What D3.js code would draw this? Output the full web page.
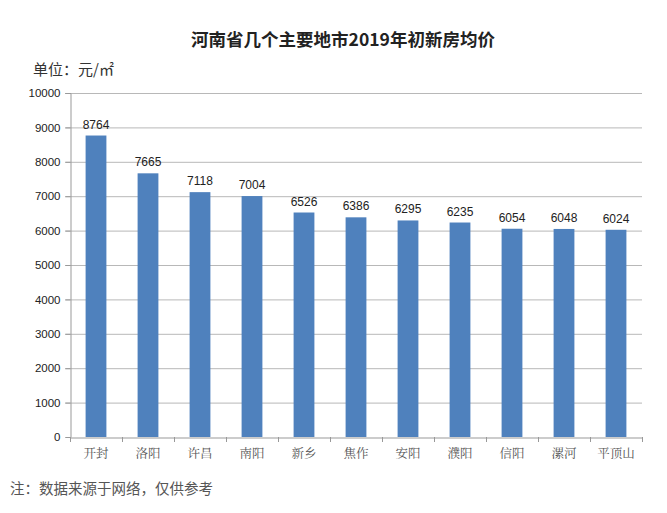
<!DOCTYPE html>
<html><head><meta charset="utf-8">
<script src="https://cdn.jsdelivr.net/npm/d3@7"></script>
<style>body{margin:0;background:#fff}</style>
</head><body>
<svg id="c" width="667" height="513"></svg>
<script>
const categories = ["开封","洛阳","许昌","南阳","新乡","焦作","安阳","濮阳","信阳","漯河","平顶山"];
const values = [8764,7665,7118,7004,6526,6386,6295,6235,6054,6048,6024];
const yTicks = [0,1000,2000,3000,4000,5000,6000,7000,8000,9000,10000];
const title = "河南省几个主要地市2019年初新房均价";
const unitLabel = "单位：元/㎡";
const note = "注：数据来源于网络，仅供参考";

const svg = d3.select("#c");
const m = {left:70, right:642, top:93, bottom:437};
const x = d3.scaleBand().domain(categories).range([m.left, m.right]).paddingInner(0.6).paddingOuter(0.3);
const y = d3.scaleLinear().domain([0,10000]).range([m.bottom, m.top]);

svg.append("text").attr("x",343).attr("y",46).attr("text-anchor","middle")
  .attr("font-family","Noto Sans CJK SC").attr("font-weight","bold").attr("font-size",17.5).attr("fill","#222").text(title);
svg.append("text").attr("x",33).attr("y",75)
  .attr("font-family","Noto Sans CJK SC").attr("font-size",15).attr("fill","#333").text(unitLabel);

// gridlines
svg.append("g").selectAll("line").data(yTicks.slice(1)).join("line")
  .attr("x1",m.left-5).attr("x2",m.right).attr("y1",d=>y(d)+0.5).attr("y2",d=>y(d)+0.5)
  .attr("stroke","#b8b8b8").attr("stroke-width",1);

// y axis
const ya = svg.append("g").attr("transform",`translate(${m.left+0.5},0)`)
  .call(d3.axisLeft(y).tickValues(yTicks).tickSize(5).tickFormat(d3.format("d")));
ya.select(".domain").attr("stroke","#999");
ya.selectAll(".tick line").attr("stroke","#999");
ya.selectAll("text").attr("font-family","Liberation Sans, Arial").attr("font-size",11.5).attr("fill","#222").attr("dx",-2);

// bars
svg.append("g").selectAll("rect").data(values).join("rect")
  .attr("x",(d,i)=>x(categories[i])).attr("width",x.bandwidth())
  .attr("y",d=>y(d)).attr("height",d=>y(0)-y(d)).attr("fill","#4f81bd");

// value labels
svg.append("g").selectAll("text").data(values).join("text")
  .attr("x",(d,i)=>x(categories[i])+x.bandwidth()/2).attr("y",d=>y(d)-7)
  .attr("text-anchor","middle").attr("font-family","Liberation Sans, Arial").attr("font-size",12).attr("fill","#222").text(d=>d);

// x axis
const xa = svg.append("g").attr("transform",`translate(0,${m.bottom+0.5})`)
  .call(d3.axisBottom(x).tickSize(0).tickPadding(12));
xa.select(".domain").attr("stroke","#999");
xa.selectAll("text").attr("font-family","Noto Serif CJK SC, Noto Sans CJK SC").attr("font-size",12.5).attr("fill","#555");
// category boundary ticks
const bounds = d3.range(categories.length+1).map(i=>m.left + i*(m.right-m.left)/categories.length);
svg.append("g").selectAll("line").data(bounds).join("line")
  .attr("x1",d=>Math.round(d)+0.5).attr("x2",d=>Math.round(d)+0.5).attr("y1",m.bottom).attr("y2",m.bottom+5)
  .attr("stroke","#999");

svg.append("text").attr("x",10).attr("y",494)
  .attr("font-family","Noto Sans CJK SC").attr("font-size",14.5).attr("fill","#555").text(note);
</script>
</body></html>
